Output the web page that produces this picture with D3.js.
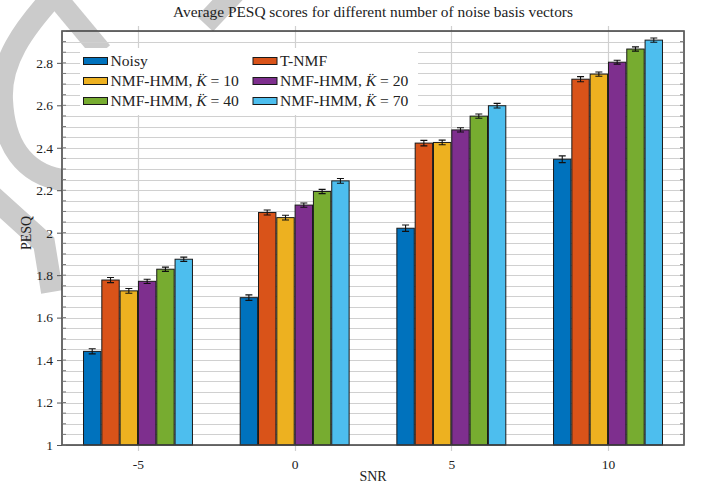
<!DOCTYPE html>
<html><head><meta charset="utf-8">
<script src="https://cdn.jsdelivr.net/npm/d3@7"></script>
<style>
html,body{margin:0;padding:0;background:#fff;}
svg{display:block;font-family:"Liberation Serif","Times New Roman",serif;}
</style></head>
<body>
<script>
// ---- data ----
const categories = [-5, 0, 5, 10];
const seriesKeys = ["noisy", "tnmf", "k10", "k20", "k40", "k70"];
const seriesBase = ["Noisy", "T-NMF", "NMF-HMM, ", "NMF-HMM, ", "NMF-HMM, ", "NMF-HMM, "];
const seriesK = [null, null, 10, 20, 40, 70];
const noisy = [1.441, 1.694, 2.021, 2.346];
const tnmf  = [1.777, 2.095, 2.422, 2.723];
const k10   = [1.726, 2.071, 2.425, 2.747];
const k20   = [1.771, 2.130, 2.484, 2.803];
const k40   = [1.828, 2.194, 2.549, 2.865];
const k70   = [1.875, 2.244, 2.598, 2.907];
const errNoisy = [0.012, 0.013, 0.015, 0.016];
const errTnmf  = [0.012, 0.012, 0.013, 0.012];
const errK10   = [0.011, 0.011, 0.011, 0.010];
const errK20   = [0.010, 0.010, 0.010, 0.009];
const errK40   = [0.010, 0.010, 0.010, 0.010];
const errK70   = [0.010, 0.011, 0.011, 0.010];
const yTicks = [1, 1.2, 1.4, 1.6, 1.8, 2, 2.2, 2.4, 2.6, 2.8];
const colors = ["#0072BD", "#D95319", "#EDB120", "#7E2F8E", "#77AC30", "#4DBEEE"];

const values = [noisy, tnmf, k10, k20, k40, k70];
const errors = [errNoisy, errTnmf, errK10, errK20, errK40, errK70];

const W = 702, H = 487;
const L = 62, R = 684, T = 31, B = 445;
const FONT = "Liberation Serif";

const svg = d3.select("body").append("svg").attr("width", W).attr("height", H);

// clip for decoration left of the axes
const defs = svg.append("defs");
defs.append("clipPath").attr("id", "leftclip").append("rect")
  .attr("x", -20).attr("y", -20).attr("width", L + 20).attr("height", H + 40);

// watermark decoration (behind the chart)
const wmColor = "#cbcbcb";
const wmLeft = svg.append("g").attr("clip-path", "url(#leftclip)")
  .attr("fill", "none").attr("stroke", wmColor).attr("stroke-width", 22);
wmLeft.append("path").attr("d", "M70,181 C22,177 4,142 2,100 C0,62 22,30 57,-8");
wmLeft.append("path").attr("d", "M-8,196 L44,243 L52,292");
const wmTop = svg.append("g").attr("fill", "none").attr("stroke", wmColor).attr("stroke-width", 22);
wmTop.append("path").attr("d", "M235,-8 L205,24");

// scales
const x = d3.scaleLinear().domain([-7.425, 12.425]).range([L, R]);
const y = d3.scaleLinear().domain([1, 2.95]).range([B, T]);
const halfGroup = (x(5) - x(0)) * 0.35;
const xb = d3.scaleBand().domain(seriesKeys).range([-halfGroup, halfGroup]).paddingInner(0.05).paddingOuter(0.02);

// plot background
svg.append("rect").attr("x", L).attr("y", T).attr("width", R - L).attr("height", B - T).attr("fill", "#fff");
// diagonal band crossing the top-left corner
svg.append("path").attr("d", "M52,-8 L102,52").attr("stroke", wmColor).attr("stroke-width", 21).attr("fill", "none");

// grid
const minorTicks = d3.range(1, 2.951, 0.05);
const grid = svg.append("g");
grid.selectAll("line.h").data(minorTicks).join("line")
  .attr("x1", L).attr("x2", R)
  .attr("y1", d => Math.round(y(d)) + 0.5).attr("y2", d => Math.round(y(d)) + 0.5)
  .attr("stroke", "#d0d0d0").attr("stroke-width", 1.2);
grid.selectAll("line.v").data(categories).join("line")
  .attr("x1", d => Math.round(x(d)) + 0.5).attr("x2", d => Math.round(x(d)) + 0.5)
  .attr("y1", T - 5).attr("y2", B + 6)
  .attr("stroke", "#d0d0d0").attr("stroke-width", 1.2);

// bars
const gGroups = svg.append("g").selectAll("g").data(categories).join("g")
  .attr("transform", d => `translate(${x(d)},0)`);
seriesKeys.forEach((k, si) => {
  gGroups.append("rect")
    .attr("x", xb(k))
    .attr("width", xb.bandwidth())
    .attr("y", (d, i) => y(values[si][i]))
    .attr("height", (d, i) => y(1) - y(values[si][i]))
    .attr("fill", colors[si]).attr("stroke", "#1a1a1a").attr("stroke-width", 1);
  const cx = xb(k) + xb.bandwidth() / 2;
  gGroups.append("path")
    .attr("d", (d, i) => {
      const v = values[si][i], e = errors[si][i];
      const y1 = y(v + e), y2 = y(v - e);
      return `M${cx},${y1}V${y2}M${cx - 3.5},${y1}H${cx + 3.5}M${cx - 3.5},${y2}H${cx + 3.5}`;
    })
    .attr("stroke", "#111").attr("stroke-width", 1.1).attr("fill", "none");
});

// axes box
const axisColor = "#3c3c3c";
svg.append("rect").attr("x", L).attr("y", T).attr("width", R - L).attr("height", B - T)
  .attr("fill", "none").attr("stroke", axisColor).attr("stroke-width", 1.5);

// y ticks
const yAxis = d3.axisLeft(y).tickValues(yTicks).tickSize(5).tickPadding(4)
  .tickFormat(d => d3.format("")(+d.toFixed(1)));
const ya = svg.append("g").attr("transform", `translate(${L},0)`).call(yAxis)
  .attr("font-family", FONT);
ya.select(".domain").remove();
ya.selectAll("line").attr("stroke", "#555");
ya.selectAll("text").attr("font-size", 13.5).attr("fill", "#222").attr("font-family", FONT);
// inner minor ticks on both sides
svg.append("g").selectAll("line").data(minorTicks).join("line")
  .attr("x1", L).attr("x2", L + 4).attr("y1", d => y(d)).attr("y2", d => y(d))
  .attr("stroke", "#777").attr("stroke-width", 1);
svg.append("g").selectAll("line").data(minorTicks).join("line")
  .attr("x1", R - 4).attr("x2", R).attr("y1", d => y(d)).attr("y2", d => y(d))
  .attr("stroke", "#777").attr("stroke-width", 1);

// x ticks
const xAxis = d3.axisBottom(x).tickValues(categories).tickSize(0).tickPadding(14)
  .tickFormat(d => String(d));
const xa = svg.append("g").attr("transform", `translate(0,${B})`).call(xAxis)
  .attr("font-family", FONT);
xa.select(".domain").remove();
xa.selectAll("text").attr("font-size", 13.5).attr("fill", "#222").attr("font-family", FONT);

// title and labels
svg.append("text").attr("x", (L + R) / 2).attr("y", 17).attr("text-anchor", "middle")
  .attr("font-size", 15.4).attr("fill", "#222").attr("font-family", FONT)
  .text("Average PESQ scores for different number of noise basis vectors");
svg.append("text").attr("x", (L + R) / 2).attr("y", 481).attr("text-anchor", "middle")
  .attr("font-size", 14).attr("fill", "#222").attr("font-family", FONT).text("SNR");
svg.append("text").attr("transform", "translate(31,233) rotate(-90)").attr("text-anchor", "middle")
  .attr("font-size", 14).attr("fill", "#222").attr("font-family", FONT).text("PESQ");

// legend
const lg = svg.append("g").attr("font-family", FONT);
lg.append("rect").attr("x", 80).attr("y", 48).attr("width", 338).attr("height", 67).attr("fill", "#fff");
const colX = [83.5, 253];
const rowY = [61, 81, 101];
seriesKeys.forEach((k, i) => {
  const cx = colX[i % 2], cy = rowY[Math.floor(i / 2)];
  lg.append("rect").attr("x", cx).attr("y", cy - 3.5).attr("width", 24).attr("height", 7)
    .attr("fill", colors[i]).attr("stroke", "#1a1a1a").attr("stroke-width", 1);
  const t = lg.append("text").attr("x", cx + 27).attr("y", cy + 5).attr("font-size", 15.6).attr("fill", "#222");
  t.append("tspan").text(seriesBase[i]);
  if (seriesK[i] !== null) {
    t.append("tspan").attr("font-style", "italic").text("K\u0308");
    t.append("tspan").text(" = " + seriesK[i]);
  }
});
</script>
</body></html>
